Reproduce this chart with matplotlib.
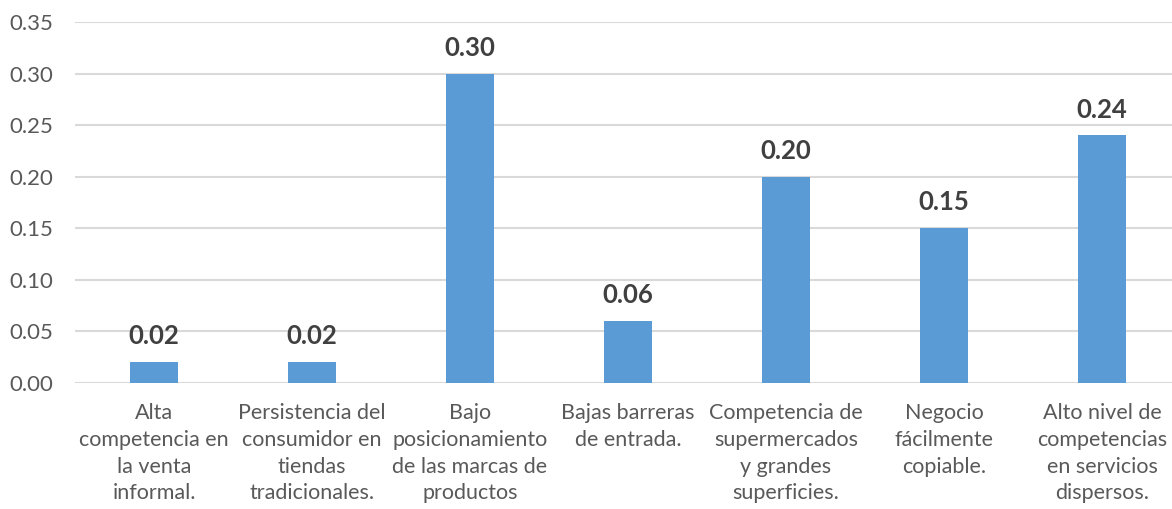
import matplotlib
matplotlib.use("Agg")
import matplotlib.pyplot as plt

plt.rcParams['font.family'] = ['Lato', 'DejaVu Sans']

categories = [
    "Alta\ncompetencia en\nla venta\ninformal.",
    "Persistencia del\nconsumidor en\ntiendas\ntradicionales.",
    "Bajo\nposicionamiento\nde las marcas de\nproductos",
    "Bajas barreras\nde entrada.",
    "Competencia de\nsupermercados\ny grandes\nsuperficies.",
    "Negocio\nfácilmente\ncopiable.",
    "Alto nivel de\ncompetencias\nen servicios\ndispersos.",
]
values = [0.02, 0.02, 0.30, 0.06, 0.20, 0.15, 0.24]
value_labels = ["0.02", "0.02", "0.30", "0.06", "0.20", "0.15", "0.24"]
yticks = [0.00, 0.05, 0.10, 0.15, 0.20, 0.25, 0.30, 0.35]

fig = plt.figure(figsize=(11.72, 5.09), dpi=100)
ax = fig.add_axes([75 / 1172, (509 - 383) / 509, 1106 / 1172, (383 - 22) / 509])

x = list(range(len(categories)))
bars = ax.bar(x, values, width=0.31, color="#5B9BD5", zorder=3)

for xi, v, lab in zip(x, values, value_labels):
    ax.annotate(lab, (xi, v), xytext=(0, 10), textcoords="offset points",
                ha="center", va="bottom", fontsize=18.5, fontweight="bold",
                color="#404040", zorder=4)

ax.set_xlim(-0.5, len(categories) - 0.5)
ax.set_ylim(0, 0.35)
ax.set_yticks(yticks)
ax.set_yticklabels([f"{t:.2f}" for t in yticks], fontsize=16)
ax.set_xticks(x)
ax.set_xticklabels(categories, linespacing=1.42, fontsize=15.5)

ax.grid(axis="y", color="#D9D9D9", linewidth=1.5, zorder=0)
ax.tick_params(axis="both", length=0, colors="#595959")
ax.tick_params(axis="y", pad=16)
ax.tick_params(axis="x", pad=14.5)
for s in ax.spines.values():
    s.set_visible(False)

fig.savefig("out.png", dpi=100)
